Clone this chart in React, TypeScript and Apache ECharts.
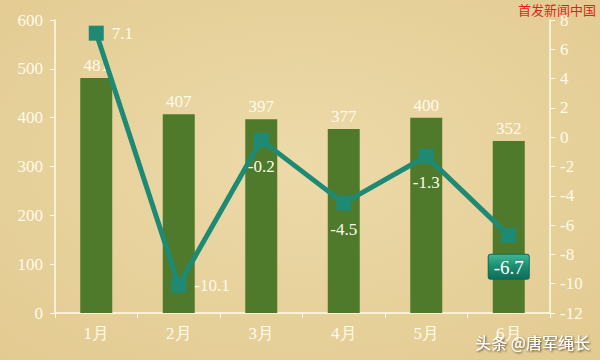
import React, { useEffect, useRef } from "react";
import * as echarts from "echarts";

const categories = ["1月", "2月", "3月", "4月", "5月", "6月"];
const barValues = [481, 407, 397, 377, 400, 352];
const lineValues = [7.1, -10.1, -0.2, -4.5, -1.3, -6.7];
const lineLabelPositions = ["right", "right", "bottom", "bottom", "bottom", "bottom"];

const SERIF = "'Liberation Serif', 'DejaVu Serif', serif";
const TEXT = "#fffaea";

export default function App() {
  const ref = useRef<HTMLDivElement>(null);
  useEffect(() => {
    document.body.style.margin = "0";
    const chart = echarts.init(ref.current!, null, { renderer: "svg" });
    const lineData = lineValues.map((v, i) => {
      const last = i === lineValues.length - 1;
      return {
        value: v,
        label: last
          ? {
              show: true,
              position: "bottom",
              distance: 12,
              color: "#ffffff",
              fontSize: 19,
              fontFamily: SERIF,
              padding: [3, 5, 2, 5],
              borderRadius: 2,
              borderColor: "#0e6b55",
              borderWidth: 1,
              backgroundColor: {
                type: "linear",
                x: 0, y: 0, x2: 0, y2: 1,
                colorStops: [
                  { offset: 0, color: "#3fb596" },
                  { offset: 0.5, color: "#1a8c70" },
                  { offset: 1, color: "#0f6e58" },
                ],
              },
            }
          : {
              show: true,
              position: lineLabelPositions[i],
              distance: lineLabelPositions[i] === "right" ? 8 : 10,
            },
      };
    });
    chart.setOption({
      animation: false,
      backgroundColor: {
        type: "radial",
        x: 0.5, y: 0.45, r: 0.8,
        colorStops: [
          { offset: 0, color: "#ecdaa9" },
          { offset: 1, color: "#e2c98f" },
        ],
      },
      grid: { left: 55, right: 50, top: 20, bottom: 47 },
      graphic: [
        {
          type: "text",
          right: 4,
          top: 3,
          style: { text: "首发新闻中国", fill: "#e41e1e", fontSize: 13, fontFamily: "'Noto Sans CJK SC', sans-serif" },
        },
        {
          type: "text",
          right: 10,
          top: 334,
          style: {
            text: "头条 @唐军绳长",
            fill: "#ffffff",
            fontSize: 16,
            fontFamily: "'Noto Sans CJK SC', sans-serif",
            textShadowColor: "rgba(0,0,0,0.7)",
            textShadowBlur: 2,
            textShadowOffsetX: 1,
            textShadowOffsetY: 1,
          },
        },
      ],
      xAxis: {
        type: "category",
        data: categories,
        axisLine: { lineStyle: { color: "#fffaea", width: 1.5 } },
        axisTick: { show: true, alignWithLabel: false, length: 5, lineStyle: { color: "#fffaea" } },
        axisLabel: { color: TEXT, fontSize: 17, fontFamily: SERIF, margin: 12 },
      },
      yAxis: [
        {
          type: "value",
          min: 0,
          max: 600,
          interval: 100,
          splitLine: { show: false },
          axisLine: { show: true, lineStyle: { color: "#fffaea", width: 1.5 } },
          axisTick: { show: true, length: 5, lineStyle: { color: "#fffaea" } },
          axisLabel: { color: TEXT, fontSize: 17, fontFamily: SERIF, margin: 12 },
        },
        {
          type: "value",
          min: -12,
          max: 8,
          interval: 2,
          splitLine: { show: false },
          axisLine: { show: true, lineStyle: { color: "#fffaea", width: 1.5 } },
          axisTick: { show: true, length: 5, lineStyle: { color: "#fffaea" } },
          axisLabel: { color: TEXT, fontSize: 17, fontFamily: SERIF, margin: 10 },
        },
      ],
      series: [
        {
          type: "bar",
          data: barValues,
          barWidth: 32,
          itemStyle: { color: "#4f7a2b" },
          label: { show: true, position: "top", color: TEXT, fontSize: 17, fontFamily: SERIF, distance: 4 },
          z: 2,
        },
        {
          type: "line",
          yAxisIndex: 1,
          data: lineData,
          symbol: "rect",
          symbolSize: 15,
          lineStyle: { color: "#1e8a73", width: 5 },
          itemStyle: { color: "#1e8a73" },
          label: { color: TEXT, fontSize: 17, fontFamily: SERIF },
          z: 3,
        },
      ],
    });
    return () => chart.dispose();
  }, []);
  return <div ref={ref} style={{ width: 600, height: 360 }} />;
}
